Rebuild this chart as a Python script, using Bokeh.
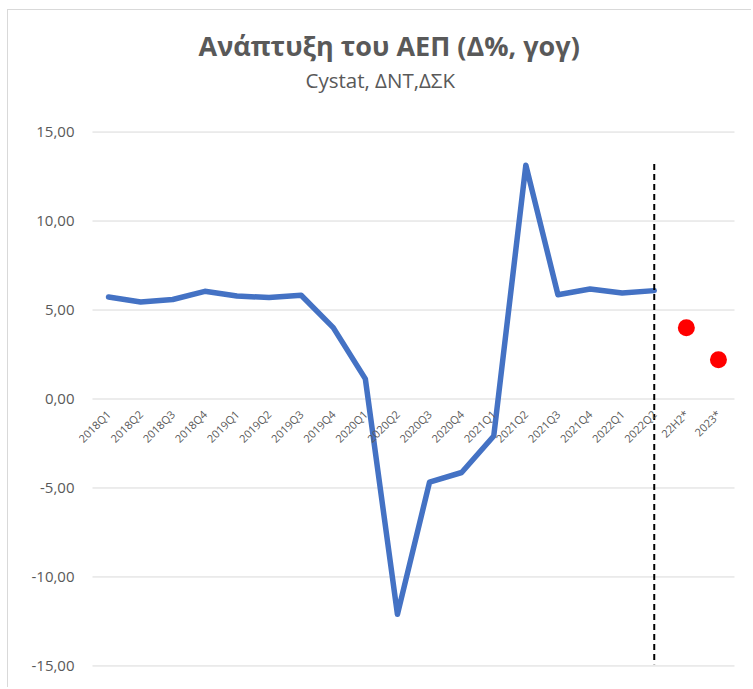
import math
from bokeh.plotting import figure
from bokeh.models import FactorRange, Range1d, FixedTicker, Title
from bokeh.embed import file_html
from bokeh.resources import INLINE

# ---- data ----
categories = ["2018Q1", "2018Q2", "2018Q3", "2018Q4",
              "2019Q1", "2019Q2", "2019Q3", "2019Q4",
              "2020Q1", "2020Q2", "2020Q3", "2020Q4",
              "2021Q1", "2021Q2", "2021Q3", "2021Q4",
              "2022Q1", "2022Q2", "22H2*", "2023*"]
actual_quarters = categories[:18]
gdp_growth = [5.73, 5.45, 5.59, 6.05, 5.79, 5.70, 5.83, 4.01,
              1.13, -12.10, -4.67, -4.13, -2.08, 13.14, 5.86, 6.18,
              5.96, 6.09]
forecast_periods = ["22H2*", "2023*"]
forecast_growth = [4.0, 2.2]
divider_period = ["2022Q2"]
divider_top = [13.2]
divider_bottom = [-14.9]
y_ticks = [-15, -10, -5, 0, 5, 10, 15]
y_tick_labels = ["-15,00", "-10,00", "-5,00", "0,00", "5,00", "10,00", "15,00"]

FONT = "Open Sans"
GREY = "#595959"

p = figure(x_range=FactorRange(factors=categories, range_padding=0.436,
                               range_padding_units="absolute"),
           y_range=Range1d(-15.2, 15.2),
           width=744, height=678, output_backend="svg", toolbar_location=None,
           title=None, min_border_left=70, min_border_right=4,
           min_border_top=118, min_border_bottom=19)
p.styles = {"margin-left": "7px", "margin-top": "9px",
            "border-left": "1px solid #d9d9d9", "border-top": "1px solid #d9d9d9"}
p.outline_line_color = None
p.background_fill_color = "white"
p.border_fill_color = "white"

# titles (first added sits nearest the plot area)
sub = Title(text="Cystat, ΔΝΤ,ΔΣΚ", align="left", offset=227,
            text_font=FONT, text_font_size="20.5px", text_font_style="normal",
            text_color=GREY, standoff=70)
p.add_layout(sub, "above")
main = Title(text="Ανάπτυξη του ΑΕΠ (Δ%, γογ)", align="left", offset=120,
             text_font=FONT, text_font_size="27px", text_font_style="bold",
             text_color=GREY, standoff=-71)
p.add_layout(main, "above")

# axes
p.xaxis.fixed_location = 0
p.xaxis.major_label_orientation = math.pi / 4
p.xaxis.major_label_text_font = FONT
p.xaxis.major_label_text_font_size = "11px"
p.xaxis.major_label_text_color = GREY
p.xaxis.major_tick_line_color = None
p.xaxis.major_tick_out = 0
p.xaxis.major_tick_in = 0
p.xaxis.axis_line_color = None
p.xaxis.major_label_standoff = 13

p.yaxis.ticker = FixedTicker(ticks=y_ticks)
p.yaxis.major_label_overrides = dict(zip(y_ticks, y_tick_labels))
p.yaxis.major_label_text_font = FONT
p.yaxis.major_label_text_font_size = "15px"
p.yaxis.major_label_text_color = GREY
p.yaxis.major_tick_line_color = None
p.yaxis.minor_tick_line_color = None
p.yaxis.major_tick_out = 0
p.yaxis.major_tick_in = 0
p.yaxis.axis_line_color = None
p.yaxis.major_label_standoff = 4

p.xgrid.grid_line_color = None
p.ygrid.grid_line_color = None

# horizontal gridlines spanning the category band
grid_x0 = [(categories[0], -0.5) for _ in y_ticks]
grid_x1 = [(categories[-1], 0.5) for _ in y_ticks]
p.segment(x0=grid_x0, y0=y_ticks, x1=grid_x1, y1=y_ticks,
          line_color="#d9d9d9", line_width=1)

# glyphs
p.line(x=actual_quarters, y=gdp_growth, line_color="#4472C4", line_width=5.5,
       line_join="round", line_cap="round")
p.scatter(x=forecast_periods, y=forecast_growth, size=17,
          fill_color="#ff0000", line_color=None)
p.segment(x0=divider_period, y0=divider_top, x1=divider_period, y1=divider_bottom,
          line_color="black", line_width=2, line_dash="6 4")

open("out.html", "w").write(file_html(p, INLINE))
